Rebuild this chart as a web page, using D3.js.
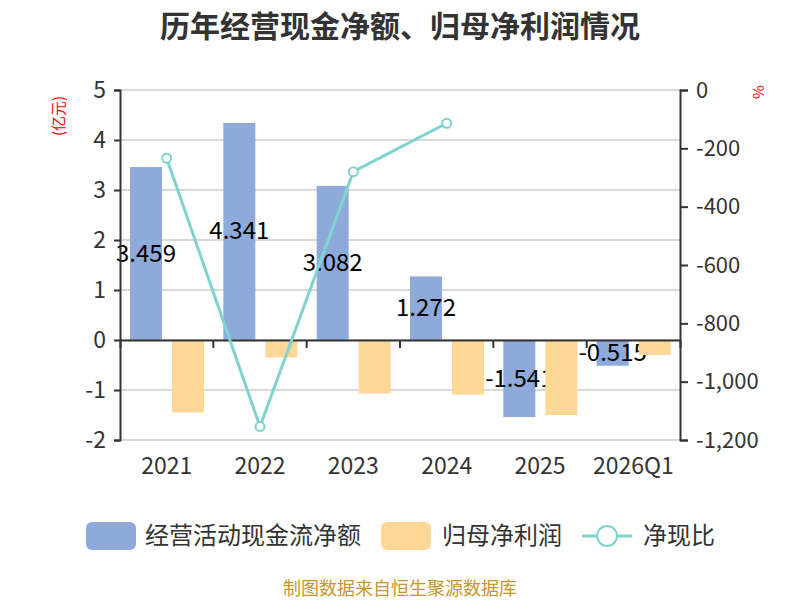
<!DOCTYPE html>
<html>
<head>
<meta charset="utf-8">
<script src="https://cdn.jsdelivr.net/npm/d3@7"></script>
<style>
  body { margin: 0; background: #fff; }
  text { font-family: "Noto Sans CJK SC", "Noto Sans", sans-serif; }
</style>
</head>
<body>
<script>
const years = ['2021', '2022', '2023', '2024', '2025', '2026Q1']
const cashFlow = [3.459, 4.341, 3.082, 1.272, -1.541, -0.515]
const netProfit = [-1.45, -0.35, -1.07, -1.09, -1.50, -0.30]
const ratio = [-234, -1154, -280, -114, null, null]
const leftTicks = [-2, -1, 0, 1, 2, 3, 4, 5]
const rightTicks = [-1200, -1000, -800, -600, -400, -200, 0]

let width = 800
let height = 600
let margin = { top: 90, bottom: 160, left: 120, right: 120 }

const blue = '#8eaadb'
const orange = '#ffd898'
const teal = '#81d3cf'
const dash = s => s.replace('−', '-')

const svg = d3.select('body').append('svg')
  .attr('width', width)
  .attr('height', height)

const x = d3.scaleBand().domain(years).range([margin.left, width - margin.right])
const y = d3.scaleLinear().domain([-2, 5]).range([height - margin.bottom, margin.top])
const yR = d3.scaleLinear().domain([-1200, 0]).range([height - margin.bottom, margin.top])

// title
svg.append('text')
  .attr('x', 400).attr('y', 37)
  .attr('text-anchor', 'middle')
  .attr('font-size', 30).attr('font-weight', 'bold')
  .attr('fill', '#333')
  .text('历年经营现金净额、归母净利润情况')

// gridlines
svg.append('g').selectAll('line')
  .data(leftTicks)
  .enter().append('line')
  .attr('x1', margin.left).attr('x2', width - margin.right)
  .attr('y1', d => y(d)).attr('y2', d => y(d))
  .attr('stroke', '#ccc').attr('stroke-width', 1.5)

// bars
const bw = 32
svg.append('g').selectAll('rect')
  .data(cashFlow)
  .enter().append('rect')
  .attr('x', (d, i) => x(years[i]) + 10)
  .attr('y', d => y(Math.max(0, d)))
  .attr('width', bw)
  .attr('height', d => Math.abs(y(d) - y(0)))
  .attr('fill', blue)

// bar labels (sit under the orange bars, as in the original)
svg.append('g').selectAll('text')
  .data(cashFlow)
  .enter().append('text')
  .attr('x', (d, i) => x(years[i]) + 10 + bw / 2)
  .attr('y', d => (y(d) + y(0)) / 2 + 8)
  .attr('text-anchor', 'middle')
  .attr('font-size', 24).attr('fill', '#000')
  .text(d => dash(String(d)))

svg.append('g').selectAll('rect')
  .data(netProfit)
  .enter().append('rect')
  .attr('x', (d, i) => x(years[i]) + 52)
  .attr('y', d => y(Math.max(0, d)))
  .attr('width', bw)
  .attr('height', d => Math.abs(y(d) - y(0)))
  .attr('fill', orange)

// left axis
const leftAxis = svg.append('g')
  .attr('transform', `translate(${margin.left},0)`)
  .call(d3.axisLeft(y).tickValues(leftTicks).tickSize(6).tickPadding(8).tickFormat(d => dash(d3.format('d')(d))))
leftAxis.select('.domain').attr('stroke', '#333').attr('stroke-width', 2)
leftAxis.selectAll('.tick line').attr('stroke', '#333').attr('stroke-width', 2)
leftAxis.selectAll('.tick text').attr('font-size', 23).attr('fill', '#333')
  .style('font-family', '"Noto Sans CJK SC", sans-serif')

// right axis
const rightAxis = svg.append('g')
  .attr('transform', `translate(${width - margin.right},0)`)
  .call(d3.axisRight(yR).tickValues(rightTicks).tickSize(8).tickPadding(8).tickFormat(d => dash(d3.format(',')(d))))
rightAxis.select('.domain').attr('stroke', '#333').attr('stroke-width', 2)
rightAxis.selectAll('.tick line').attr('stroke', '#333').attr('stroke-width', 2)
rightAxis.selectAll('.tick text').attr('font-size', 22).attr('fill', '#333')
  .style('font-family', '"Noto Sans CJK SC", sans-serif')

// x axis at zero
const xAxis = svg.append('g')
  .attr('transform', `translate(0,${y(0)})`)
  .call(d3.axisBottom(x).tickSize(8).tickFormat(''))
xAxis.select('.domain').attr('stroke', '#333').attr('stroke-width', 2)
xAxis.selectAll('.tick line')
  .attr('transform', `translate(${x.bandwidth() / 2},0)`)
  .attr('stroke', '#333').attr('stroke-width', 2)
xAxis.selectAll('.tick').filter(d => d === '2026Q1').remove()

// x labels
svg.append('g').selectAll('text')
  .data(years)
  .enter().append('text')
  .attr('x', d => x(d) + x.bandwidth() / 2)
  .attr('y', 474)
  .attr('text-anchor', 'middle')
  .attr('font-size', 23).attr('fill', '#333')
  .text(d => d)

// line
const pts = ratio.map((v, i) => [x(years[i]) + x.bandwidth() / 2, v]).filter(p => p[1] !== null)
svg.append('path')
  .datum(pts)
  .attr('fill', 'none')
  .attr('stroke', teal).attr('stroke-width', 3)
  .attr('d', d3.line().x(p => p[0]).y(p => yR(p[1])))
svg.append('g').selectAll('circle')
  .data(pts)
  .enter().append('circle')
  .attr('cx', p => p[0]).attr('cy', p => yR(p[1]))
  .attr('r', 4.5)
  .attr('fill', '#fff').attr('stroke', teal).attr('stroke-width', 2)

// units
svg.append('text')
  .attr('transform', 'translate(64,116) rotate(-90)')
  .attr('text-anchor', 'middle')
  .attr('font-size', 15).attr('fill', 'red')
  .text('(亿元)')
svg.append('text')
  .attr('transform', 'translate(764,92) rotate(-90)')
  .attr('text-anchor', 'middle')
  .attr('font-size', 15).attr('fill', 'red')
  .text('%')

// legend
const legend = svg.append('g')
legend.append('rect').attr('x', 86).attr('y', 522).attr('width', 50).attr('height', 28).attr('rx', 6).attr('fill', blue)
legend.append('text').attr('x', 145).attr('y', 544).attr('font-size', 24).attr('fill', '#333').text('经营活动现金流净额')
legend.append('rect').attr('x', 381).attr('y', 522).attr('width', 50).attr('height', 28).attr('rx', 6).attr('fill', orange)
legend.append('text').attr('x', 442).attr('y', 544).attr('font-size', 24).attr('fill', '#333').text('归母净利润')
legend.append('line').attr('x1', 582).attr('x2', 632).attr('y1', 536).attr('y2', 536).attr('stroke', teal).attr('stroke-width', 3)
legend.append('circle').attr('cx', 607).attr('cy', 536).attr('r', 10).attr('fill', '#fff').attr('stroke', teal).attr('stroke-width', 2)
legend.append('text').attr('x', 643).attr('y', 544).attr('font-size', 24).attr('fill', '#333').text('净现比')

// source
svg.append('text')
  .attr('x', 400).attr('y', 595)
  .attr('text-anchor', 'middle')
  .attr('font-size', 18).attr('fill', '#c8962a')
  .text('制图数据来自恒生聚源数据库')
</script>
</body>
</html>
